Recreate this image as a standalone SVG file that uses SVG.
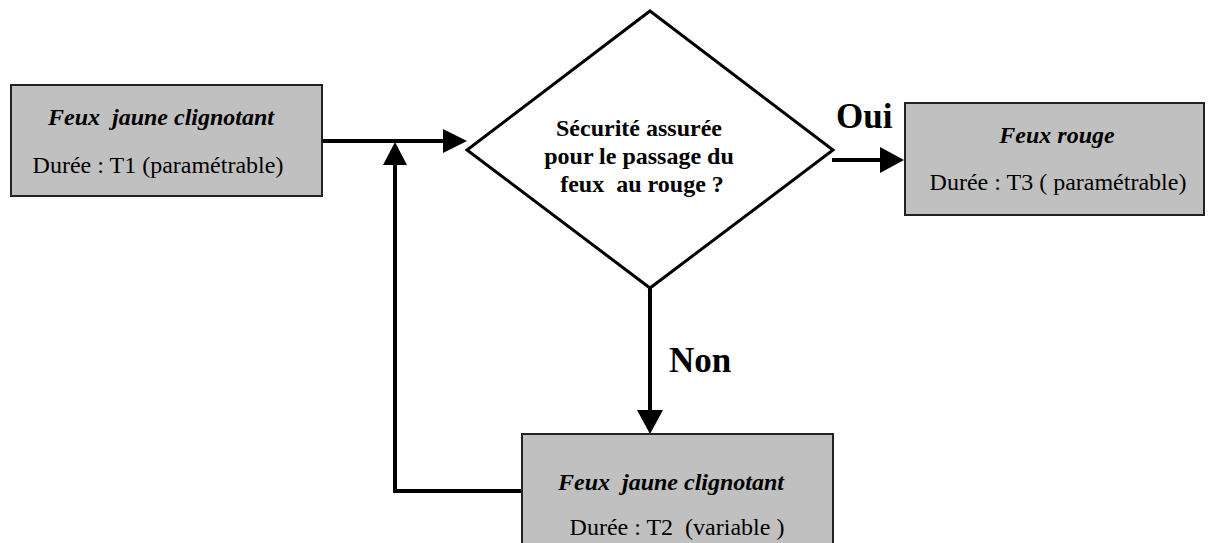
<svg xmlns="http://www.w3.org/2000/svg" width="1210" height="543" viewBox="0 0 1210 543">
  <style>
    .box { fill: #c0c0c0; stroke: #222; stroke-width: 2; }
    .diamond { fill: #fff; stroke: #000; stroke-width: 3; stroke-linejoin: miter; }
    .line { fill: none; stroke: #000; stroke-width: 4; }
    .head { fill: #000; stroke: none; }
    .title { font-family: "Liberation Serif", "Times New Roman", serif; font-size: 24px; font-weight: bold; font-style: italic; fill: #000; text-anchor: middle; white-space: pre; }
    .body { font-family: "Liberation Serif", "Times New Roman", serif; font-size: 24px; fill: #000; text-anchor: middle; white-space: pre; }
    .question { font-family: "Liberation Serif", "Times New Roman", serif; font-size: 24px; font-weight: bold; fill: #000; text-anchor: middle; white-space: pre; }
    .label { font-family: "Liberation Serif", "Times New Roman", serif; font-size: 35px; font-weight: bold; fill: #000; }
  </style>

  <rect width="1210" height="543" fill="#fff"/>

  <!-- connectors -->
  <g id="connectors">
    <line class="line" x1="323" y1="141" x2="445" y2="141"/>
    <polygon class="head" points="443,129 467,141 443,153"/>

    <polyline class="line" points="522,491 395,491 395,163"/>
    <polygon class="head" points="383,165 395,142 407,165"/>

    <line class="line" x1="832" y1="160" x2="882" y2="160"/>
    <polygon class="head" points="880,147 904,160 880,173"/>

    <line class="line" x1="650" y1="288" x2="650" y2="412"/>
    <polygon class="head" points="637,410 650,434 663,410"/>

    <text class="label" x="836" y="128">Oui</text>
    <text class="label" x="669" y="372">Non</text>
  </g>

  <!-- first flashing amber phase -->
  <g id="node-t1">
    <rect class="box" x="11" y="85" width="311" height="111"/>
    <text class="title" x="161" y="125">Feux  jaune clignotant</text>
    <text class="body" x="158" y="173">Durée : T1 (paramétrable)</text>
  </g>

  <!-- decision -->
  <g id="node-decision">
    <polygon class="diamond" points="650,11 833,150 650,288 467,150"/>
    <text class="question" x="639" y="136">Sécurité assurée</text>
    <text class="question" x="639" y="164">pour le passage du</text>
    <text class="question" x="642" y="192">feux  au rouge ?</text>
  </g>

  <!-- red phase -->
  <g id="node-t3">
    <rect class="box" x="905" y="103" width="299" height="112"/>
    <text class="title" x="1057" y="143">Feux rouge</text>
    <text class="body" x="1058" y="190">Durée : T3 ( paramétrable)</text>
  </g>

  <!-- second flashing amber phase -->
  <g id="node-t2">
    <rect class="box" x="522" y="434" width="311" height="125"/>
    <text class="title" x="671" y="490">Feux  jaune clignotant</text>
    <text class="body" x="677" y="535">Durée : T2  (variable )</text>
  </g>
</svg>
